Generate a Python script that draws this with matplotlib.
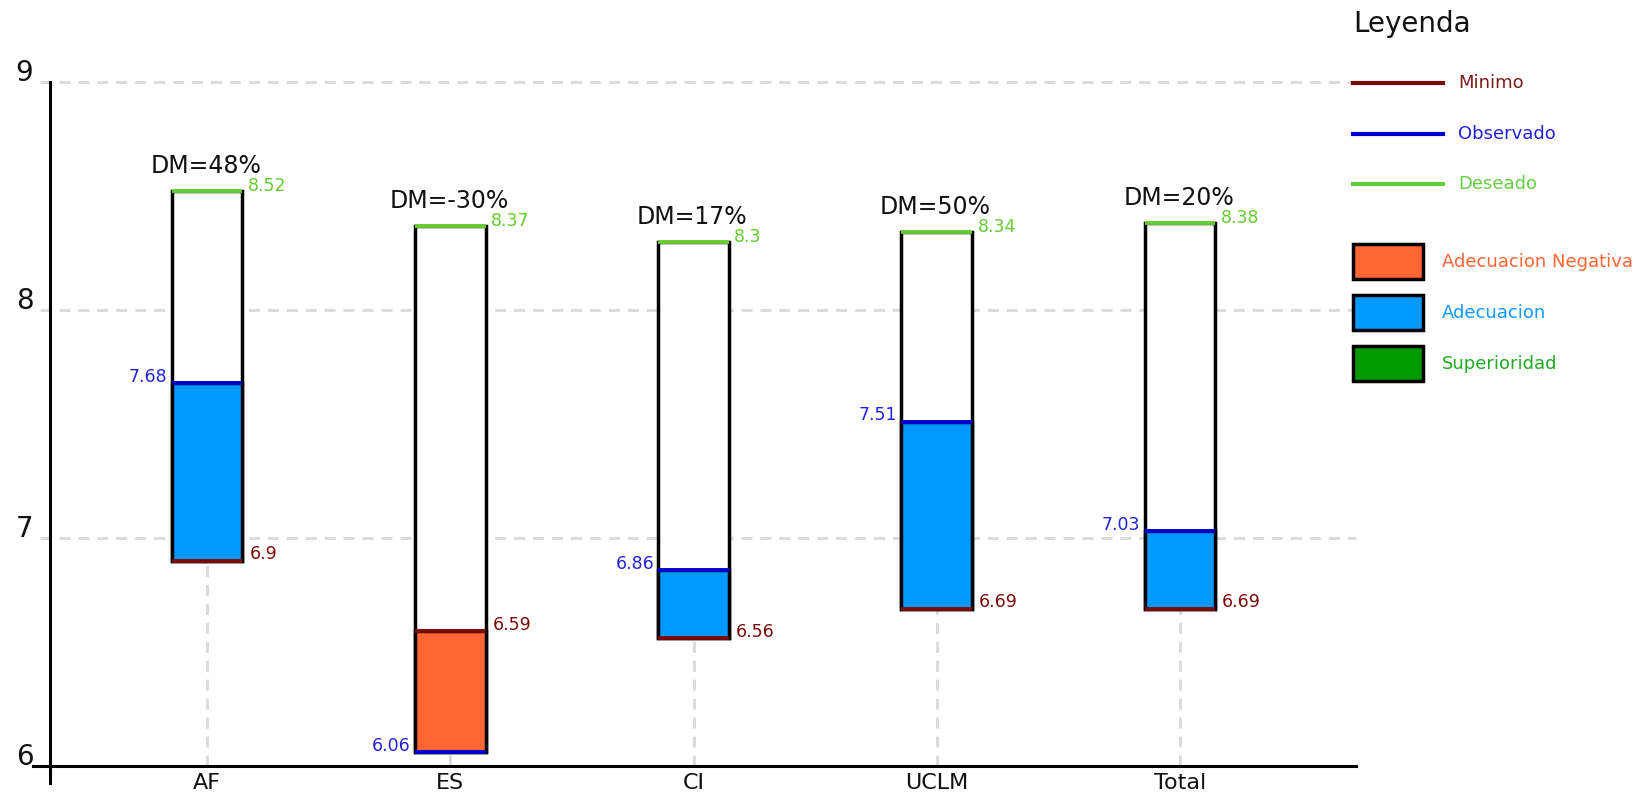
import matplotlib.pyplot as plt
from matplotlib.lines import Line2D
from matplotlib.patches import Rectangle

plt.rcParams['font.family'] = ['DejaVu Sans']

# data
categories = ['AF', 'ES', 'CI', 'UCLM', 'Total']
minimo = [6.9, 6.59, 6.56, 6.69, 6.69]
observado = [7.68, 6.06, 6.86, 7.51, 7.03]
deseado = [8.52, 8.37, 8.3, 8.34, 8.38]
dm_labels = ['DM=48%', 'DM=-30%', 'DM=17%', 'DM=50%', 'DM=20%']
yticks = [6, 7, 8, 9]

c_min = '#7a0a0a'
c_obs = '#0000cc'
c_des = '#66cc33'
c_neg = '#ff6633'
c_ade = '#0099ff'
c_sup = '#009900'
c_grid = '#dcdcdc'

W, H = 1651, 795
fig = plt.figure(figsize=(W / 100, H / 100), dpi=100)
ax = fig.add_axes([50 / W, 29 / H, 1306 / W, 684 / H])
ax.set_xlim(-0.646, 4.724)
ax.set_ylim(6, 9)
ax.axis('off')

xs = list(range(len(categories)))
bw = 0.29
dash = (0, (3.6, 2.6))

# grid (starts a little left of the axis, like tick stubs)
for y in yticks[1:]:
    ax.plot([-0.688, 4.724], [y, y], color=c_grid, lw=2.2, ls=dash, zorder=1, clip_on=False)
ax.vlines(xs, 6, minimo, color=c_grid, lw=2.2, linestyles=[dash], zorder=1)

# axis lines
ax.plot([-0.646, -0.646], [5.925, 9], color='black', lw=2.2, clip_on=False, zorder=6)
ax.plot([-0.716, 4.724], [6, 6], color='black', lw=2.2, clip_on=False, zorder=6)
for y in yticks:
    ax.annotate(str(y), (-0.646, y), xytext=(-12, 1), textcoords='offset points',
                ha='right', va='baseline', fontsize=20, color='#111111')

for x, cat in zip(xs, categories):
    ax.annotate(cat, (x, 6), xytext=(0, -5), textcoords='offset points',
                ha='center', va='top', fontsize=16, color='#111111', annotation_clip=False)

# bars
for x, mn, ob, de, dm in zip(xs, minimo, observado, deseado, dm_labels):
    low = min(mn, ob)
    ax.bar(x, de - low, bottom=low, width=bw, color='white', edgecolor='black',
           lw=2.5, zorder=2)
    if ob < mn:
        fc = c_neg
    elif ob > de:
        fc = c_sup
    else:
        fc = c_ade
    ax.bar(x, ob - mn, bottom=mn, width=bw, color=fc, edgecolor='black', lw=2.5, zorder=3)
    ax.hlines(mn, x - bw / 2, x + bw / 2, color=c_min, lw=2.8, zorder=5)
    ax.hlines(ob, x - bw / 2, x + bw / 2, color=c_obs, lw=2.8, zorder=5)
    ax.hlines(de, x - bw / 2, x + bw / 2, color=c_des, lw=2.8, zorder=5)

    ax.annotate(f'{de:g}', (x + bw / 2, de), xytext=(4, 0), textcoords='offset points',
                ha='left', va='baseline', fontsize=12.5, color=c_des)
    ax.annotate(f'{mn:g}', (x + bw / 2, mn), xytext=(5, 1), textcoords='offset points',
                ha='left', va='baseline', fontsize=12.5, color=c_min)
    ax.annotate(f'{ob:g}', (x - bw / 2, ob), xytext=(-3, 1), textcoords='offset points',
                ha='right', va='baseline', fontsize=12.5, color='#2222dd')
    ax.annotate(dm, (x, de), xytext=(-1, 13), textcoords='offset points',
                ha='center', va='baseline', fontsize=17, color='#111111')

# legend
def fx(px):
    return px / W

def fy(py):
    return 1 - py / H

fig.text(fx(1353), fy(32), 'Leyenda', fontsize=20, color='#111111', va='baseline')
leg_lines = [('Minimo', c_min, '#7a1a1a', 83), ('Observado', c_obs, '#2222dd', 134),
             ('Deseado', c_des, '#66cc44', 184)]
for name, lc, tc, py in leg_lines:
    fig.add_artist(Line2D([fx(1353), fx(1443)], [fy(py), fy(py)], color=lc, lw=3,
                          transform=fig.transFigure))
    fig.text(fx(1458), fy(py), name, fontsize=13, color=tc, va='center')

leg_boxes = [('Adecuacion Negativa', c_neg, c_neg, 262), ('Adecuacion', c_ade, '#1199ff', 313),
             ('Superioridad', c_sup, '#22aa22', 364)]
for name, fc, tc, py in leg_boxes:
    fig.add_artist(Rectangle((fx(1353), fy(py + 17)), fx(70), 35 / H, facecolor=fc,
                             edgecolor='black', lw=2.5, transform=fig.transFigure))
    fig.text(fx(1442), fy(py), name, fontsize=13, color=tc, va='center')

fig.savefig('out.png', dpi=100)
